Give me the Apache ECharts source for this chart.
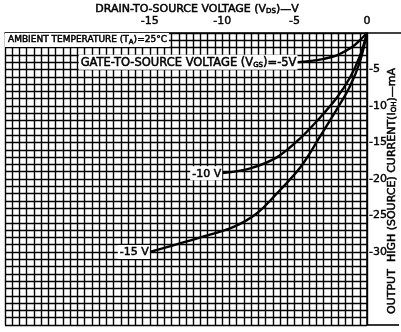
<!DOCTYPE html>
<html><head><meta charset="utf-8">
<script src="https://cdn.jsdelivr.net/npm/echarts@6/dist/echarts.min.js"></script>
<style>html,body{margin:0;padding:0;background:#fff}#c{width:401px;height:332px}</style>
</head><body><div id="c"></div>
<script>
// Tick values that carry a printed label
const vdsLabelled = [-15, -10, -5, 0];
const iohLabelled = [-5, -10, -15, -20, -25, -30];

// Output high (source) current curves, one per gate-to-source voltage
const vgs5Vds = [-4.8, -4.0, -3.0, -2.0, -1.0, -0.5, 0];
const vgs5Ioh = [-4.0, -3.85, -3.55, -3.0, -1.9, -1.0, 0];

const vgs10Vds = [-10.0, -8.0, -6.2, -4.6, -3.25, -2.1, -1.2, -0.5, 0];
const vgs10Ioh = [-19.2, -18.5, -17.0, -14.4, -11.6, -8.9, -6.2, -3.2, 0];

const vgs15Vds = [-15.0, -11.5, -9.25, -7.6, -6.0, -4.6, -3.25, -2.1, -1.2, -0.5, 0];
const vgs15Ioh = [-30.0, -28.0, -26.6, -24.7, -21.5, -18.4, -14.2, -10.5, -7.4, -4.0, 0];

const curveNames = ['-5V', '-10V', '-15V'];

const FONT = 'DejaVu Sans';
// series labels: a slight outline thickens the lettering to a pen-drawn weight
const ink = { fontFamily: FONT, color: '#000', textBorderColor: '#000', textBorderWidth: 0.5 };
const sub = Object.assign({}, ink, { fontSize: 7, verticalAlign: 'bottom', padding: [5, 0, 0, 0] });
// the same look for graphic text elements (zrender style names)
const gInk = { fontFamily: FONT, fill: '#000', stroke: '#000', lineWidth: 0.5 };
const gSub = Object.assign({}, gInk, { fontSize: 7, verticalAlign: 'bottom', padding: [5, 0, 0, 0] });

function near(list, v) { return list.some(x => Math.abs(x - v) < 1e-6); }

function curve(name, xs, ys, labelFmt, labelSize) {
  const data = xs.map((x, k) => [x, ys[k]]);
  data[0] = {
    value: data[0],
    label: {
      show: true, position: 'left', distance: 0,
      formatter: labelFmt,
      backgroundColor: '#fff', padding: [2, 1, 1, 2],
      rich: {
        t: Object.assign({}, ink, { fontSize: labelSize }),
        s: sub
      }
    }
  };
  return {
    name, type: 'line', data, smooth: 0.35,
    symbol: 'circle', symbolSize: 0.01, showSymbol: true, showAllSymbol: true,
    itemStyle: { color: '#000' },
    lineStyle: { color: '#000', width: 2.4 },
    labelLayout: { hideOverlap: false },
    z: 5
  };
}

const chart = echarts.init(document.getElementById('c'), null, { renderer: 'canvas' });
chart.setOption({
  animation: false,
  backgroundColor: '#fff',
  grid: { left: 5, right: 34, top: 33, bottom: 7 },
  xAxis: {
    type: 'value', position: 'top', min: -25, max: 0, interval: 0.5,
    axisLine: { show: true, lineStyle: { color: '#000', width: 1.6 } },
    axisTick: { show: false },
    axisLabel: {
      interval: 0, margin: 6, fontFamily: FONT, fontSize: 11, color: '#000',
      textBorderColor: '#000', textBorderWidth: 0.4,
      formatter: v => near(vdsLabelled, v) ? String(Math.round(v)) : ''
    },
    splitLine: { show: true, lineStyle: { color: '#000', width: 1.4 } }
  },
  yAxis: {
    type: 'value', position: 'right', min: -40, max: 0, interval: 1,
    axisLine: { show: true, lineStyle: { color: '#000', width: 1.6 } },
    axisTick: { show: false },
    axisLabel: {
      margin: 2, fontFamily: FONT, fontSize: 11, color: '#000',
      textBorderColor: '#000', textBorderWidth: 0.4,
      formatter: v => near(iohLabelled, v) ? String(Math.round(v)) : ''
    },
    splitLine: { show: true, lineStyle: { color: '#000', width: 1.4 } }
  },
  graphic: [
    { type: 'line', shape: { x1: 367, y1: 33, x2: 401, y2: 33 }, style: { stroke: '#000', lineWidth: 1.6 } },
    { type: 'line', shape: { x1: 367, y1: 325, x2: 399, y2: 325 }, style: { stroke: '#000', lineWidth: 1.6 } },
    {
      type: 'text', x: 197, y: 9, z: 10,
      style: {
        text: '{t|DRAIN-TO-SOURCE VOLTAGE (V}{s|DS}{t|)—V}',
        align: 'center', verticalAlign: 'middle',
        rich: { t: Object.assign({}, gInk, { fontSize: 11 }), s: gSub }
      }
    },
    {
      type: 'text', left: 5, top: 33, z: 10,
      style: {
        text: '{t|AMBIENT TEMPERATURE (T}{s|A}{t|)=25°C}',
        backgroundColor: '#fff', padding: [1, 2, 1, 3],
        rich: { t: Object.assign({}, gInk, { fontSize: 9 }), s: gSub }
      }
    },
    {
      type: 'text', x: 392, y: 191, rotation: Math.PI / 2, z: 10,
      style: {
        text: '{t|OUTPUT  HIGH (SOURCE) CURRENT(I}{s|OH}{t|)—mA}',
        align: 'center', verticalAlign: 'middle',
        rich: { t: Object.assign({}, gInk, { fontSize: 11 }), s: gSub }
      }
    }
  ],
  series: [
    curve(curveNames[0], vgs5Vds, vgs5Ioh, '{t|GATE-TO-SOURCE VOLTAGE (V}{s|GS}{t|)=-5V}', 11.5),
    curve(curveNames[1], vgs10Vds, vgs10Ioh, '{t|-10 V}', 11),
    curve(curveNames[2], vgs15Vds, vgs15Ioh, '{t|-15 V}', 11)
  ]
});
</script>
</body></html>
